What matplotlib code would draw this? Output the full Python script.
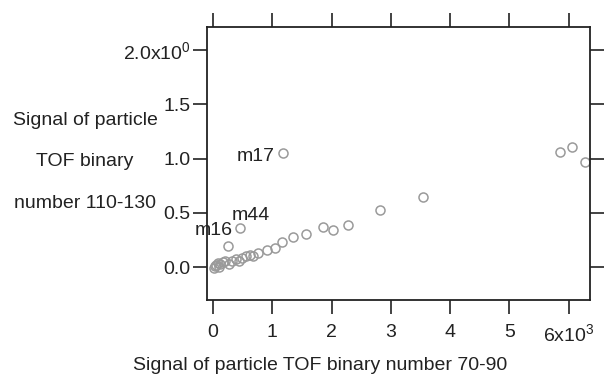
import matplotlib
matplotlib.use("Agg")
import matplotlib.pyplot as plt
from matplotlib.ticker import FixedLocator, FixedFormatter

plt.rcParams['font.family'] = ['Liberation Sans', 'DejaVu Sans']
plt.rcParams['mathtext.fontset'] = 'custom'
plt.rcParams['mathtext.rm'] = 'Liberation Sans'
plt.rcParams['mathtext.it'] = 'Liberation Sans'

# Data (x in units of 10^3, y in units of 10^0 as labelled)
x_vals = [0.02, 0.03, 0.05, 0.08, 0.12, 0.17, 0.20, 0.32, 0.39, 0.49, 0.56, 0.62,
          0.76, 0.91, 1.05, 1.16, 1.35, 1.57, 1.85, 2.02, 2.28, 2.82, 3.54,
          0.25, 0.46, 1.18, 5.85, 6.05, 6.27, 0.10, 0.27, 0.44, 0.68]
y_vals = [-0.01, 0.01, 0.02, 0.04, 0.03, 0.05, 0.055, 0.06, 0.08, 0.09, 0.10, 0.11,
          0.13, 0.16, 0.18, 0.23, 0.28, 0.31, 0.37, 0.34, 0.39, 0.53, 0.65,
          0.20, 0.36, 1.05, 1.06, 1.11, 0.97, 0.00, 0.03, 0.06, 0.10]

label_texts = ["m17", "m44", "m16"]
label_x = [0.40, 0.32, -0.30]
label_y = [1.02, 0.48, 0.34]

x_ticks = [0, 1, 2, 3, 4, 5, 6]
x_ticklabels = ["0", "1", "2", "3", "4", "5", "6x10$^{3}$"]
y_ticks = [0.0, 0.5, 1.0, 1.5, 2.0]
y_ticklabels = ["0.0", "0.5", "1.0", "1.5", "2.0x10$^{0}$"]

FS = 14
TXT = '#222222'

fig = plt.figure(figsize=(6.05, 3.75), dpi=100)
ax = fig.add_axes([207/605, 75/375, (590-207)/605, (300-27)/375])

ax.plot(x_vals, y_vals, linestyle='none', marker='o', markersize=6.5,
        markerfacecolor='none', markeredgecolor='#9a9a9a', markeredgewidth=1.1)

for t, lx, ly in zip(label_texts, label_x, label_y):
    ax.text(lx, ly, t, fontsize=FS, color=TXT, ha='left', va='center', clip_on=False)

ax.set_xlim(-0.1, 6.36)
ax.set_ylim(-0.30, 2.21)

ax.xaxis.set_major_locator(FixedLocator(x_ticks))
ax.xaxis.set_major_formatter(FixedFormatter(x_ticklabels))
ax.yaxis.set_major_locator(FixedLocator(y_ticks))
ax.yaxis.set_major_formatter(FixedFormatter(y_ticklabels))

ax.tick_params(axis='both', which='major', direction='out', length=10, width=1.2,
               color=TXT, labelsize=FS, labelcolor=TXT,
               top=True, right=True, labeltop=False, labelright=False)
ax.tick_params(axis='x', pad=7)
ax.tick_params(axis='y', pad=2)

for s in ax.spines.values():
    s.set_linewidth(1.3)
    s.set_color(TXT)

fig.text(320/605, 1 - 365/375, "Signal of particle TOF binary number 70-90",
         fontsize=FS, color=TXT, ha='center', va='center')

ylabel_lines = ["Signal of particle", "TOF binary", "number 110-130"]
ylabel_py = [120, 162, 203]
for line, py in zip(ylabel_lines, ylabel_py):
    fig.text(85/605, 1 - py/375, line, fontsize=FS, color=TXT,
             ha='center', va='center')

fig.savefig("out.png", dpi=100)
